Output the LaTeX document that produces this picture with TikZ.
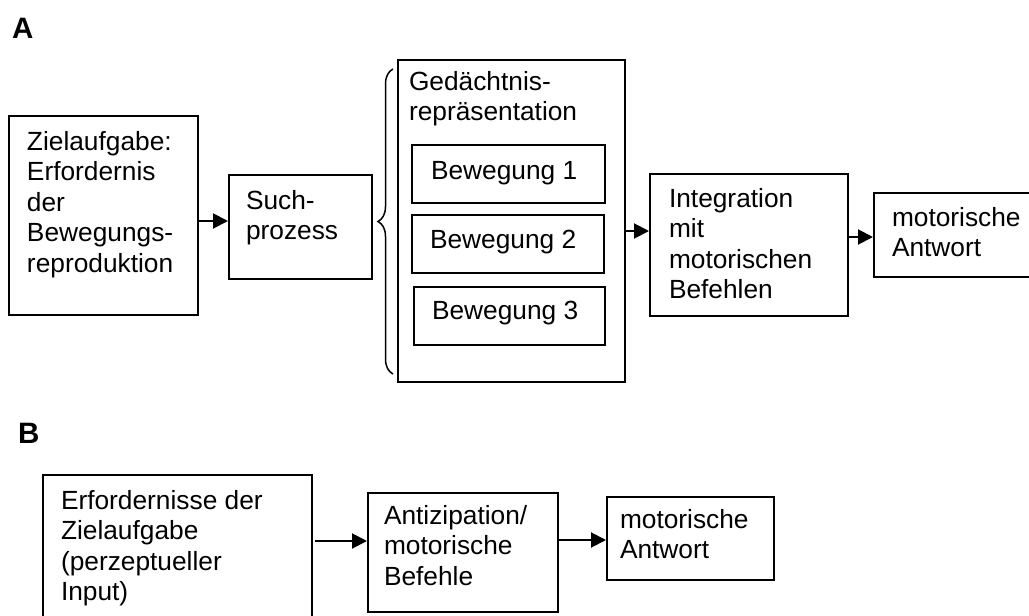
\documentclass[tikz,border=0pt]{standalone}
\usepackage{fontspec}
\setmainfont{Liberation Sans}
\usetikzlibrary{arrows.meta,decorations.pathreplacing}

% box body: width, height, left inset, first baseline, lines
\newcommand\panelbody[5]{\parbox[b][#2][t]{#1}{\raggedright\leftskip=#3\relax\rule{0pt}{#4}#5}}

\tikzset{
  panel/.style={draw, line width=2pt, inner sep=0pt, anchor=north west,
    font=\fontsize{26.3}{30.5}\selectfont},
  flow/.style={line width=2pt, -{Triangle[length=15pt,width=15pt]}},
  tag/.style={anchor=base west, inner sep=0pt, font=\fontsize{29.5}{32}\selectfont\bfseries},
  curly/.style={decorate, decoration={brace, amplitude=15pt}, line width=1.5pt}
}

\begin{document}
\begin{tikzpicture}[x=1pt, y=-1pt]
\useasboundingbox (0,0) rectangle (1029,616);

% ---- part A ----
\node[tag] (labA) at (12,38) {A};

\node[panel] (goal) at (8,115)
  {\panelbody{189pt}{199pt}{18pt}{34pt}{Zielaufgabe:\\Erfordernis\\der\\Bewegungs-\\reproduktion}};
\node[panel] (search) at (228,174)
  {\panelbody{143pt}{104pt}{17pt}{34pt}{Such-\\prozess}};
\node[panel] (memory) at (397,59)
  {\panelbody{227pt}{322pt}{11pt}{30pt}{Gedächtnis-\\repräsentation}};
\node[panel] (move1) at (411,144)
  {\panelbody{193pt}{58pt}{19pt}{34pt}{Bewegung 1}};
\node[panel] (move2) at (411,214)
  {\panelbody{192pt}{58pt}{18pt}{33pt}{Bewegung 2}};
\node[panel] (move3) at (413,286)
  {\panelbody{191pt}{58pt}{18pt}{32pt}{Bewegung 3}};
\node[panel] (integ) at (649,173)
  {\panelbody{198pt}{142pt}{19pt}{33pt}{Integration\\mit\\motorischen\\Befehlen}};
\node[panel] (respA) at (873,192)
  {\panelbody{165pt}{84pt}{18pt}{33pt}{motorische\\Antwort}};

\draw[flow] ([yshift=6pt]search.west -| goal.east) -- ([yshift=6pt]search.west);
\draw[curly] ([xshift=-4pt,yshift=9pt]memory.south west) -- ([xshift=-4pt,yshift=-10pt]memory.north west);
\draw[flow] ([yshift=14pt]integ.west -| memory.east) -- ([yshift=14pt]integ.west);
\draw[flow] ([yshift=-2pt]respA.west -| integ.east) -- ([yshift=-2pt]respA.west);

% ---- part B ----
\node[tag] (labB) at (18,443) {B};

\node[panel] (need) at (42,474)
  {\panelbody{269pt}{146pt}{18pt}{34pt}{Erfordernisse der\\Zielaufgabe\\(perzeptueller\\Input)}};
\node[panel] (antic) at (367,492)
  {\panelbody{190pt}{119pt}{16pt}{31pt}{Antizipation/\\motorische\\Befehle}};
\node[panel] (respB) at (606,496)
  {\panelbody{167pt}{83pt}{13pt}{31pt}{motorische\\Antwort}};

\draw[flow] ([xshift=2pt,yshift=11.5pt]antic.west -| need.east) -- ([yshift=11.5pt]antic.west);
\draw[flow] ([yshift=-1.5pt]respB.west -| antic.east) -- ([yshift=-1.5pt]respB.west);
\end{tikzpicture}
\end{document}
